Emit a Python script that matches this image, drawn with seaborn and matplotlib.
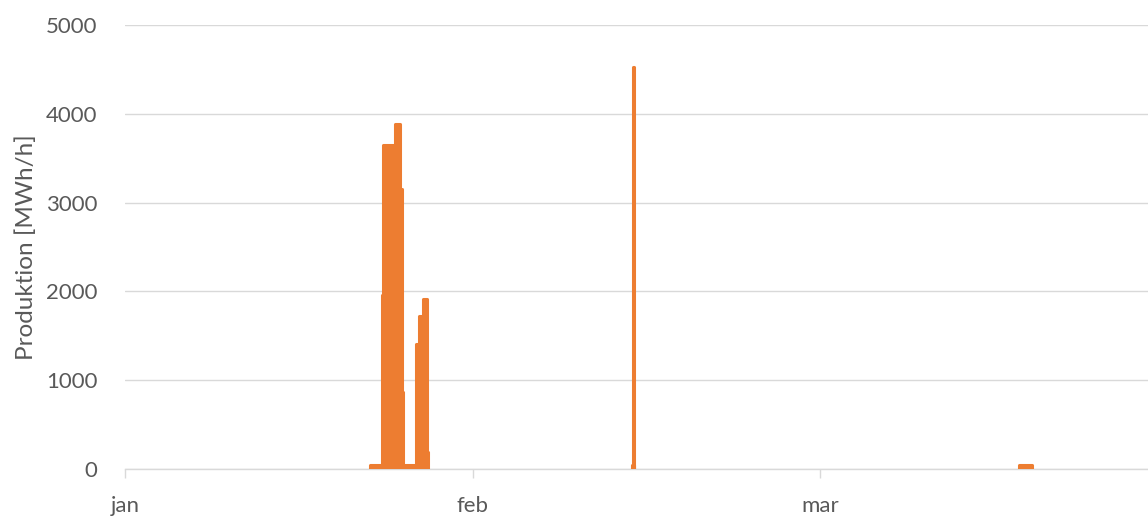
import numpy as np
import pandas as pd
import matplotlib
matplotlib.use("Agg")
import matplotlib.pyplot as plt
import seaborn as sns

# Step breakpoints (hour from 1 Jan, production value held until next breakpoint)
hours = [0, 525, 550, 553, 577, 589, 592, 595, 624, 629, 637, 647, 649,
         1086, 1087, 1089, 1090, 1914, 1941, 2190]
values = [0, 40, 1960, 3650, 3880, 3150, 870, 40, 1410, 1720, 1920, 190, 0,
          40, 4530, 40, 0, 40, 0, 0]
month_ticks = [0, 744, 1488]
month_labels = ["jan", "feb", "mar"]
y_ticks = [0, 1000, 2000, 3000, 4000, 5000]
y_label = "Produktion [MWh/h]"

sns.set_theme(style="white")
plt.rcParams["font.family"] = ["Lato", "DejaVu Sans"]

df = pd.DataFrame({"hour": hours, "value": values})

fig = plt.figure(figsize=(11.48, 5.19), dpi=100)
ax = fig.add_axes([125 / 1148, 1 - 469 / 519, 1 - 125 / 1148, (469 - 25) / 519])

orange = "#ED7D31"
ax.fill_between(df["hour"], df["value"], step="post", color=orange, linewidth=0, zorder=3)
# outline only where production is non-zero
for i in range(len(df) - 1):
    if df["value"][i] > 0:
        seg = pd.DataFrame({"hour": [df["hour"][i], df["hour"][i + 1]],
                            "value": [df["value"][i], df["value"][i]]})
        sns.lineplot(data=seg, x="hour", y="value", ax=ax, color=orange,
                     linewidth=2.2, estimator=None, zorder=3)
        ax.vlines(df["hour"][i], 0, df["value"][i], color=orange, linewidth=2.2, zorder=3)
        ax.vlines(df["hour"][i + 1], 0, df["value"][i], color=orange, linewidth=2.2, zorder=3)

ax.set_xlim(0, 2190)
ax.set_ylim(0, 5000)
ax.set_yticks(y_ticks)
ax.set_yticklabels([str(t) for t in y_ticks])
ax.set_xticks(month_ticks)
ax.set_xticklabels(month_labels)
ax.yaxis.grid(True, color="#d9d9d9", linewidth=1)
ax.set_axisbelow(True)
for s in ["top", "right", "left"]:
    ax.spines[s].set_visible(False)
ax.spines["bottom"].set_color("#d9d9d9")
ax.spines["bottom"].set_linewidth(1)
ax.spines["bottom"].set_zorder(1)
ax.tick_params(axis="x", which="both", direction="out", length=6.5, width=1,
               color="#d9d9d9", labelsize=16, labelcolor="#595959", pad=13, bottom=True)
ax.tick_params(axis="y", length=0, labelsize=16, labelcolor="#595959", pad=20)
ax.set_xlabel("")
ax.set_ylabel(y_label, fontsize=17.5, color="#595959", labelpad=6)

fig.savefig("out.png", dpi=100)
